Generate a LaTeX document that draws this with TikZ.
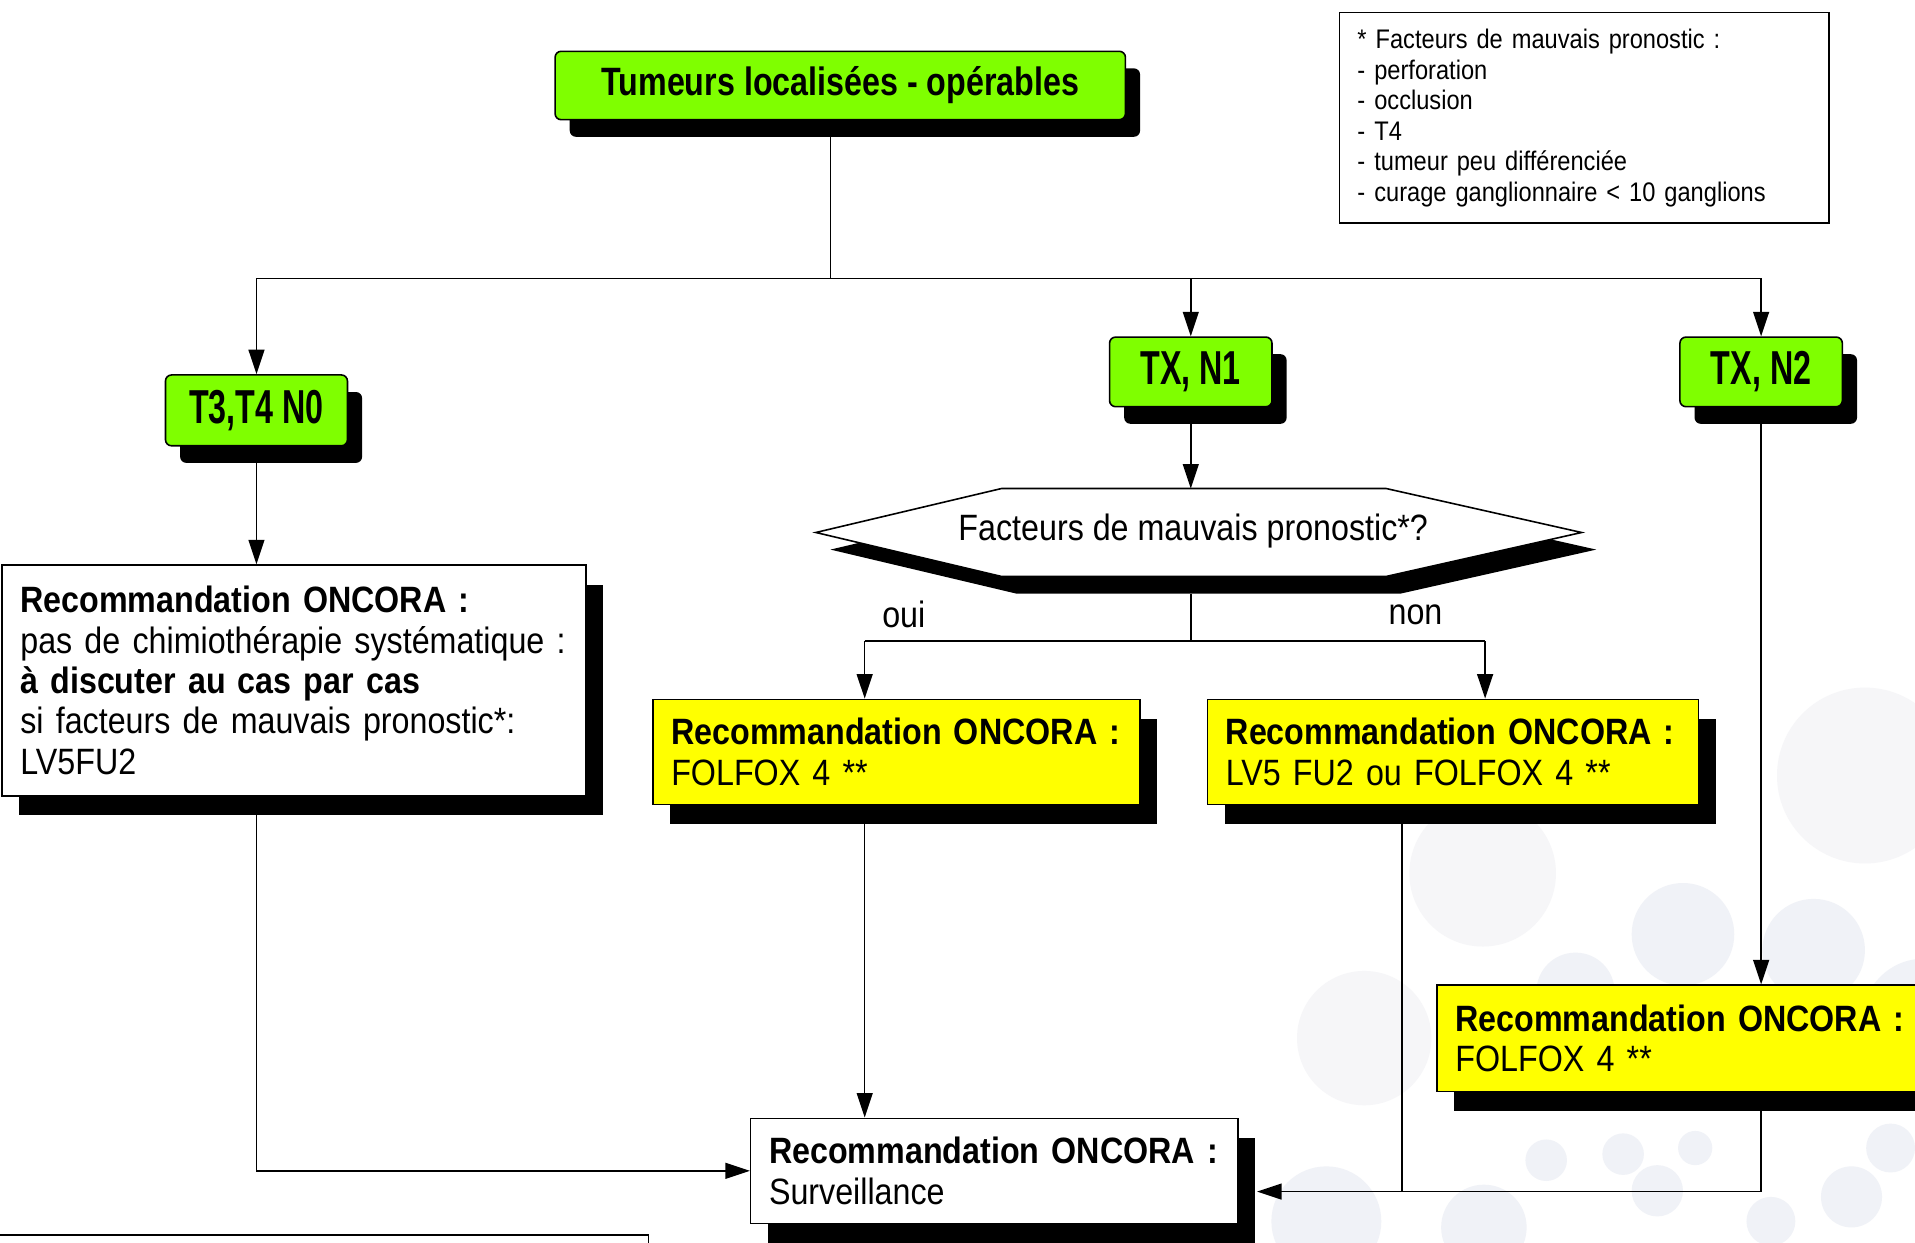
\documentclass[tikz,border=0pt]{standalone}
\usepackage{fontspec}
\setmainfont{Liberation Sans}[FakeStretch=0.88]
\usepackage{graphicx}
\usetikzlibrary{arrows.meta,shadows,calc}
\definecolor{cGreen}{HTML}{7FFF00}
\definecolor{cYellow}{HTML}{FFFF00}
\definecolor{bgA}{HTML}{F6F6F8}
\definecolor{bgB}{HTML}{F0F2F7}
\begin{document}
\begin{tikzpicture}[x=1pt,y=-1pt,
  txt/.style={font=\fontsize{30}{33}\selectfont},
  shad/.style={drop shadow={shadow xshift=14pt,shadow yshift=-16pt,fill=black,opacity=1}},
  gshad/.style={drop shadow={shadow xshift=12pt,shadow yshift=-14pt,fill=black,opacity=1}},
  greenbox/.style={draw=black,line width=1.3pt,fill=cGreen,rounded corners=5pt,gshad,
    font=\fontsize{30}{33}\selectfont\bfseries,inner sep=0pt},
  recbox/.style={draw=black,line width=1.3pt,shad,inner xsep=15pt,inner ysep=0pt,
    align=left,font=\fontsize{30}{33}\selectfont,anchor=north west},
  conn/.style={line width=1.3pt},
  arr/.style={conn,-{Triangle[length=20pt,width=13pt]}},
]
\useasboundingbox (0,0) rectangle (1568,1017);
\clip (0,0) rectangle (1568,1017);
\fill[white] (0,0) rectangle (1568,1017);
% background decoration
\fill[bgA] (1527,635) circle (72);
\fill[bgA] (1214,715) circle (60);
\fill[bgA] (1117,850) circle (55);
\fill[bgB] (1378,765) circle (42);
\fill[bgB] (1485,778) circle (42);
\fill[bgB] (1290,812) circle (32);
\fill[bgB] (1575,835) circle (50);
\fill[bgB] (1086,1000) circle (45);
\fill[bgB] (1215,1005) circle (35);
\fill[bgB] (1357,975) circle (21);
\fill[bgB] (1388,940) circle (14);
\fill[bgB] (1516,980) circle (25);
\fill[bgB] (1266,950) circle (17);
\fill[bgB] (1329,945) circle (17);
\fill[bgB] (1450,1000) circle (20);
\fill[bgB] (1548,940) circle (20);

% legend
\node[draw=black,line width=1pt,fill=white,anchor=north west,text width=371pt,inner xsep=15pt,
  inner ysep=0pt,minimum height=172pt,align=left,font=\fontsize{22}{25}\selectfont] (legend) at (1096,10)
  {* Facteurs de mauvais pronostic :\\- perforation\\- occlusion\\- T4\\- tumeur peu différenciée\\- curage ganglionnaire < 10 ganglions};

% green boxes
\node[greenbox,minimum width=467pt,minimum height=56pt] (top) at (688,70) {\scalebox{1}[1.08]{Tumeurs localisées - opérables}};
\node[greenbox,minimum width=149pt,minimum height=58pt] (t3) at (210,336) {\scalebox{1}[1.3]{T3,T4 N0}};
\node[greenbox,minimum width=133pt,minimum height=57pt] (n1) at (975,304.5) {\scalebox{1}[1.3]{TX, N1}};
\node[greenbox,minimum width=133pt,minimum height=57pt] (n2) at (1442,304.5) {\scalebox{1}[1.3]{TX, N2}};

% recommendation boxes
\node[recbox,fill=white,text width=448pt,minimum height=189pt] (left) at (1,462)
  {\textbf{Recommandation ONCORA :}\\pas de chimiothérapie systématique :\\\textbf{à discuter au cas par cas}\\si facteurs de mauvais pronostic*:\\LV5FU2};
\node[recbox,fill=cYellow,text width=369pt,minimum height=86pt] (y1) at (534,572)
  {\textbf{Recommandation ONCORA :}\\FOLFOX 4 **};
\node[recbox,fill=cYellow,text width=372pt,minimum height=86pt] (y2) at (988,572)
  {\textbf{Recommandation ONCORA :}\\LV5 FU2 ou FOLFOX 4 **};
\node[recbox,fill=cYellow,text width=400pt,minimum height=87pt] (y3) at (1176,806)
  {\textbf{Recommandation ONCORA :}\\FOLFOX 4 **};
\node[recbox,fill=white,text width=369pt,minimum height=86pt] (surv) at (614,915)
  {\textbf{Recommandation ONCORA :}\\Surveillance};

% partial box at bottom left
\draw[line width=1.3pt,fill=white] (-5,1011) rectangle (531,1040);

% decision hexagon
\fill[black] (680,450) -- (832,414) -- (1147,414) -- (1307,450) -- (1147,486) -- (832,486) -- cycle;
\draw[line width=1.3pt,fill=white] (668,436) -- (820,400) -- (1135,400) -- (1295,436) -- (1135,472) -- (820,472) -- cycle;
\node[txt] (hex) at (977,435) {Facteurs de mauvais pronostic*?};
\coordinate (hexN) at (975,400);
\coordinate (hexS) at (975,486);

% connectors
\coordinate (bus) at (680,228);
\draw[conn] (top.south -| bus) -- (bus);
\draw[conn] (t3.north |- bus) -- (n2.north |- bus);
\draw[arr] (t3.north |- bus) -- (t3.north);
\draw[arr] (n1.north |- bus) -- (n1.north);
\draw[arr] (n2.north |- bus) -- (n2.north);
\draw[arr] (n1.south) -- (hexN);
\draw[arr] (t3.south) -- (t3.south |- left.north);

\coordinate (split) at (975,525);
\coordinate (oui) at (708,525);
\coordinate (non) at (1216,525);
\draw[conn] (hexS) -- (split);
\draw[conn] (oui) -- (non);
\draw[arr] (oui) -- (oui |- y1.north);
\draw[arr] (non) -- (non |- y2.north);
\node[txt] (lOui) at (740,503) {oui};
\node[txt] (lNon) at (1159,503) {non};

\draw[arr] (n2.south) -- (n2.south |- y3.north);
\draw[arr] (y1.south -| oui) -- (oui |- surv.north);
\draw[arr] (left.south -| t3.south) -- (t3.south |- surv.west) -- (surv.west);

\coordinate (survR) at ($(surv.east)+(15,17)$);
\coordinate (y2out) at ($(y2.south west)+(160,0)$);
\draw[arr] (y3.south -| n2.south) -- (n2.south |- survR) -- (survR);
\draw[conn] (y2out) -- (y2out |- survR);
\end{tikzpicture}
\end{document}
